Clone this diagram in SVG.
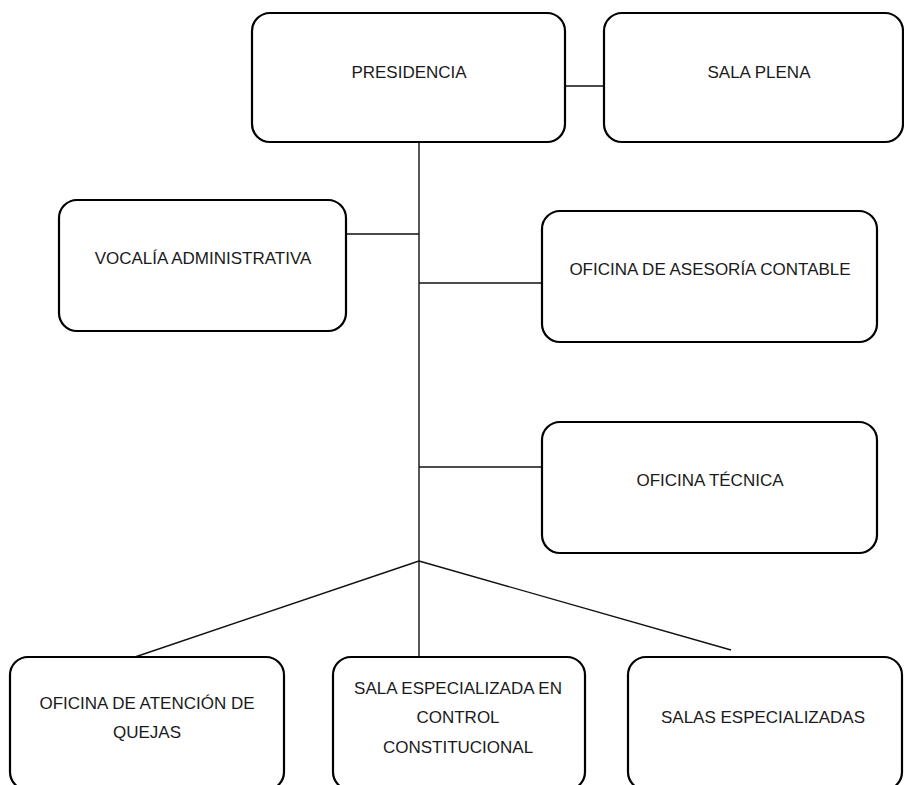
<svg xmlns="http://www.w3.org/2000/svg" width="904" height="785" viewBox="0 0 904 785">
  <style>
    .box { fill: #ffffff; stroke: #000000; stroke-width: 2.2; }
    .lbl { font-family: "Liberation Sans", Arial, sans-serif; font-size: 17px; fill: #1a1a1a; text-anchor: middle; }
    .con { stroke: #111111; stroke-width: 1.4; fill: none; }
  </style>
  <rect x="0" y="0" width="904" height="785" fill="#ffffff"/>
  <g id="connectors">
    <line class="con" x1="565" y1="86" x2="604" y2="86"/>
    <line class="con" x1="419" y1="142" x2="419" y2="664"/>
    <line class="con" x1="346" y1="234" x2="419" y2="234"/>
    <line class="con" x1="419" y1="283" x2="542" y2="283"/>
    <line class="con" x1="419" y1="467" x2="542" y2="467"/>
    <line class="con" x1="419" y1="561" x2="135" y2="657"/>
    <line class="con" x1="419" y1="561" x2="731" y2="650"/>
  </g>
  <g id="presidencia">
    <rect class="box" x="252" y="13" width="313" height="129" rx="18" ry="18"/>
    <text class="lbl" x="409" y="78">PRESIDENCIA</text>
  </g>
  <g id="sala-plena">
    <rect class="box" x="604" y="13" width="299" height="129" rx="18" ry="18"/>
    <text class="lbl" x="759" y="78">SALA PLENA</text>
  </g>
  <g id="vocalia">
    <rect class="box" x="59" y="200" width="287" height="131" rx="18" ry="18"/>
    <text class="lbl" x="203" y="264">VOCALÍA ADMINISTRATIVA</text>
  </g>
  <g id="asesoria">
    <rect class="box" x="542" y="211" width="335" height="131" rx="18" ry="18"/>
    <text class="lbl" x="710" y="275">OFICINA DE ASESORÍA CONTABLE</text>
  </g>
  <g id="tecnica">
    <rect class="box" x="542" y="422" width="335" height="131" rx="18" ry="18"/>
    <text class="lbl" x="710" y="486">OFICINA TÉCNICA</text>
  </g>
  <g id="quejas">
    <rect class="box" x="10" y="657" width="274" height="133" rx="18" ry="18"/>
    <text class="lbl" x="147" y="709">OFICINA DE ATENCIÓN DE</text>
    <text class="lbl" x="147" y="738">QUEJAS</text>
  </g>
  <g id="control-constitucional">
    <rect class="box" x="333" y="657" width="252" height="133" rx="18" ry="18"/>
    <text class="lbl" x="458" y="694">SALA ESPECIALIZADA EN</text>
    <text class="lbl" x="458" y="723">CONTROL</text>
    <text class="lbl" x="458" y="753">CONSTITUCIONAL</text>
  </g>
  <g id="salas-especializadas">
    <rect class="box" x="628" y="657" width="274" height="133" rx="18" ry="18"/>
    <text class="lbl" x="763" y="723">SALAS ESPECIALIZADAS</text>
  </g>
</svg>
